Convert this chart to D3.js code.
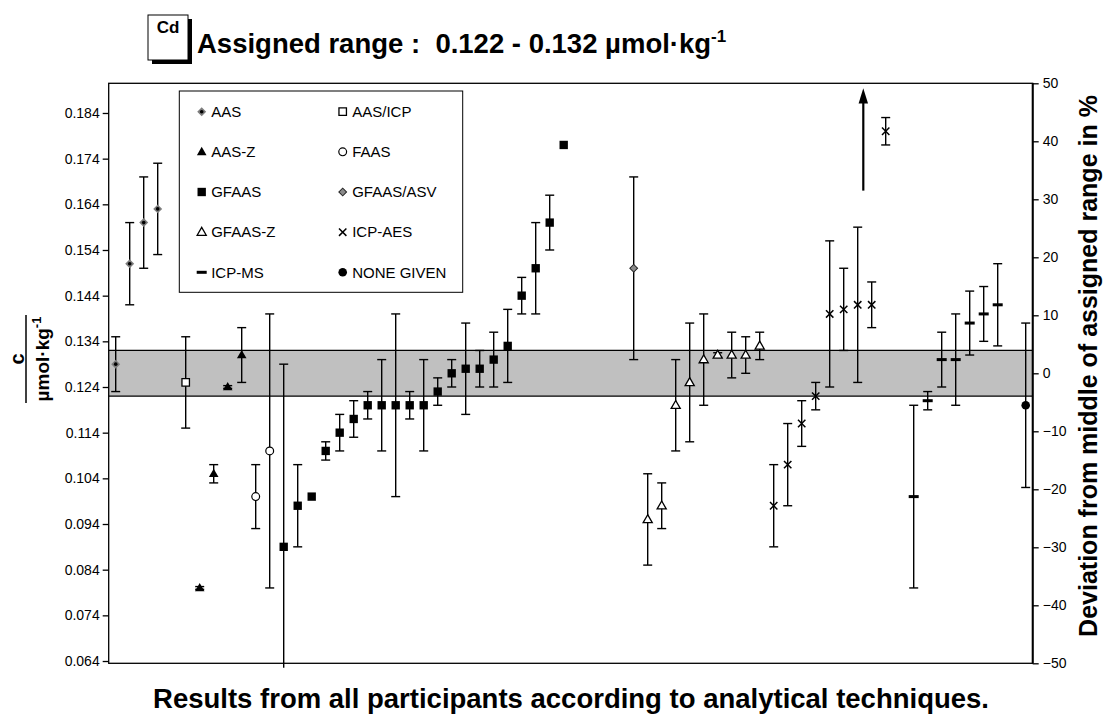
<!DOCTYPE html>
<html>
<head>
<meta charset="utf-8">
<script src="https://cdn.jsdelivr.net/npm/d3@7/dist/d3.min.js"></script>
<style>
  body { margin: 0; background: #fff; }
  svg text { font-family: "Liberation Sans", Arial, sans-serif; }
</style>
</head>
<body>
<div id="chart"></div>
<script>
// ---- data ----
const element = "Cd";
const assignedRange = [0.122, 0.132];

const legendColumn1 = ["AAS", "AAS-Z", "GFAAS", "GFAAS-Z", "ICP-MS"];
const legendColumn2 = ["AAS/ICP", "FAAS", "GFAAS/ASV", "ICP-AES", "NONE GIVEN"];

// participant slot on the x axis (0..65), technique, result and uncertainty limits
const labSlot = [0, 1, 2, 3, 5, 6, 7, 8, 9, 10, 11,
  12, 13, 14, 15, 16, 17, 18, 19, 20, 21, 22, 23, 24, 25, 26, 27, 28, 29, 30, 31, 32,
  37, 38, 39, 40, 41, 42, 43, 44, 45, 46,
  47, 48, 49, 50, 51, 52, 53, 54, 55,
  57, 58, 59, 60, 61, 62, 63, 65];
const labMethod = ["AAS", "AAS", "AAS", "AAS", "AAS/ICP", "AAS-Z", "AAS-Z", "AAS-Z", "AAS-Z", "FAAS", "FAAS",
  "GFAAS", "GFAAS", "GFAAS", "GFAAS", "GFAAS", "GFAAS", "GFAAS", "GFAAS", "GFAAS", "GFAAS", "GFAAS",
  "GFAAS", "GFAAS", "GFAAS", "GFAAS", "GFAAS", "GFAAS", "GFAAS", "GFAAS", "GFAAS", "GFAAS",
  "GFAAS/ASV", "GFAAS-Z", "GFAAS-Z", "GFAAS-Z", "GFAAS-Z", "GFAAS-Z", "GFAAS-Z", "GFAAS-Z", "GFAAS-Z", "GFAAS-Z",
  "ICP-AES", "ICP-AES", "ICP-AES", "ICP-AES", "ICP-AES", "ICP-AES", "ICP-AES", "ICP-AES", "ICP-AES",
  "ICP-MS", "ICP-MS", "ICP-MS", "ICP-MS", "ICP-MS", "ICP-MS", "ICP-MS", "NONE GIVEN"];
const labValue = [0.129, 0.151, 0.160, 0.163, 0.125, 0.080, 0.105, 0.124, 0.131, 0.100, 0.110,
  0.089, 0.098, 0.100, 0.110, 0.114, 0.117, 0.120, 0.120, 0.120, 0.120, 0.120, 0.123, 0.127, 0.128, 0.128, 0.130, 0.133, 0.144, 0.150, 0.160, 0.177,
  0.150, 0.095, 0.098, 0.120, 0.125, 0.130, 0.131, 0.131, 0.131, 0.133,
  0.098, 0.107, 0.116, 0.122, 0.140, 0.141, 0.142, 0.142, 0.180,
  0.100, 0.121, 0.130, 0.130, 0.138, 0.140, 0.142, 0.120];
const labLow = [0.123, 0.142, 0.150, 0.153, 0.115, 0.0797, 0.103, 0.1237, 0.125, 0.093, 0.080,
  0.0625, 0.089, null, 0.108, 0.110, 0.113, 0.117, 0.110, 0.100, 0.117, 0.110, 0.120, 0.124, 0.118, 0.124, 0.124, 0.125, 0.140, 0.140, 0.154, null,
  0.130, 0.085, 0.093, 0.110, 0.112, 0.120, 0.1305, 0.126, 0.127, 0.130,
  0.089, 0.098, 0.111, 0.119, 0.124, 0.132, 0.125, 0.137, 0.177,
  0.080, 0.119, 0.124, 0.120, 0.131, 0.134, 0.133, 0.102];
const labHigh = [0.135, 0.160, 0.170, 0.173, 0.135, 0.0803, 0.107, 0.1243, 0.137, 0.107, 0.140,
  0.129, 0.107, null, 0.112, 0.118, 0.121, 0.123, 0.130, 0.140, 0.123, 0.130, 0.126, 0.130, 0.138, 0.132, 0.136, 0.141, 0.148, 0.160, 0.166, null,
  0.170, 0.105, 0.103, 0.130, 0.138, 0.140, 0.1315, 0.136, 0.135, 0.136,
  0.107, 0.116, 0.121, 0.125, 0.156, 0.150, 0.159, 0.147, 0.183,
  0.120, 0.123, 0.136, 0.140, 0.145, 0.146, 0.151, 0.138];

const slotCount = 66;
const leftTicks = [0.064, 0.074, 0.084, 0.094, 0.104, 0.114, 0.124, 0.134, 0.144, 0.154, 0.164, 0.174, 0.184];
const rightTicks = [-50, -40, -30, -20, -10, 0, 10, 20, 30, 40, 50];

// off-scale result marker (arrow)
const arrowSlot = 53.4;
const arrowFrom = 0.167;
const arrowTo = 0.1885;

// draws one technique symbol centred on (0,0)
function drawMarker(g, method) {
  const sq = (size) => d3.symbol(d3.symbolSquare, size)();
  const tri = (size) => d3.symbol(d3.symbolTriangle, size)();
  switch (method) {
    case "AAS":
      g.append("path").attr("d", sq(40)).attr("transform", "rotate(45)").attr("fill", "#7d7d7d");
      g.append("circle").attr("r", 1.8).attr("fill", "#000");
      break;
    case "AAS/ICP":
      g.append("path").attr("d", sq(56)).attr("fill", "#fff").attr("stroke", "#000").attr("stroke-width", 1.3);
      break;
    case "AAS-Z":
      g.append("path").attr("d", tri(40)).attr("transform", "translate(0,0.5)").attr("fill", "#000");
      break;
    case "FAAS":
      g.append("circle").attr("r", 3.9).attr("fill", "#fff").attr("stroke", "#000").attr("stroke-width", 1.2);
      break;
    case "GFAAS":
      g.append("path").attr("d", sq(70)).attr("fill", "#000");
      break;
    case "GFAAS/ASV":
      g.append("path").attr("d", sq(30)).attr("transform", "rotate(45)")
        .attr("fill", "#8a8a8a").attr("stroke", "#222").attr("stroke-width", 1);
      break;
    case "GFAAS-Z":
      g.append("path").attr("d", tri(36)).attr("transform", "translate(0,0.5)")
        .attr("fill", "#fff").attr("stroke", "#000").attr("stroke-width", 1.3);
      break;
    case "ICP-AES":
      g.append("path").attr("d", "M-3.7,-3.7L3.7,3.7M-3.7,3.7L3.7,-3.7")
        .attr("stroke", "#000").attr("stroke-width", 1.5).attr("fill", "none");
      break;
    case "ICP-MS":
      g.append("rect").attr("x", -5).attr("y", -1.5).attr("width", 10).attr("height", 3).attr("fill", "#000");
      break;
    default:
      g.append("circle").attr("r", 4.3).attr("fill", "#000");
  }
}

class ErrorBarChart {
  constructor(_config) {
    this.config = {
      parentElement: _config.parentElement,
      containerWidth: _config.containerWidth || 1109,
      containerHeight: _config.containerHeight || 715,
      margin: _config.margin || { top: 83.3, right: 76.3, bottom: 51.7, left: 108.7 },
      capWidth: 9,
      tickSize: 6,
      legend: { x: 179.3, y: 91, width: 283.4, height: 201.3, rowTop: 20.7, rowStep: 40.15, col1: 22.4, col2: 163.4, textGap: 9.5 },
    };
    this.initVis();
    this.updateVis();
  }

  initVis() {
    let vis = this;
    const cfg = vis.config;

    vis.width = cfg.containerWidth - cfg.margin.left - cfg.margin.right;
    vis.height = cfg.containerHeight - cfg.margin.top - cfg.margin.bottom;

    vis.svg = d3.select(cfg.parentElement)
      .append("svg")
      .attr("width", cfg.containerWidth)
      .attr("height", cfg.containerHeight);

    vis.g = vis.svg.append("g")
      .attr("transform", "translate(" + cfg.margin.left + "," + cfg.margin.top + ")");

    // mid of the assigned range, deviation axis runs -50 .. +50 %
    vis.mid = (assignedRange[0] + assignedRange[1]) / 2;

    vis.xScale = d3.scaleLinear().domain([-0.5, slotCount - 0.5]).range([0, vis.width]);
    vis.yScale = d3.scaleLinear().domain([vis.mid * 0.5, vis.mid * 1.5]).range([vis.height, 0]);
    vis.yRight = d3.scaleLinear().domain([-50, 50]).range([vis.height, 0]);

    // assigned range band
    vis.g.append("rect")
      .attr("x", 0)
      .attr("width", vis.width)
      .attr("y", vis.yScale(assignedRange[1]))
      .attr("height", vis.yScale(assignedRange[0]) - vis.yScale(assignedRange[1]))
      .attr("fill", "#c0c0c0");
    vis.g.selectAll(".band-edge")
      .data(assignedRange)
      .join("line")
      .attr("class", "band-edge")
      .attr("x1", 0).attr("x2", vis.width)
      .attr("y1", (d) => vis.yScale(d)).attr("y2", (d) => vis.yScale(d))
      .attr("stroke", "#000").attr("stroke-width", 1.3);

    // axes
    vis.yAxisLeft = d3.axisLeft(vis.yScale)
      .tickValues(leftTicks)
      .tickFormat(d3.format(".3f"))
      .tickSize(cfg.tickSize)
      .tickPadding(3);
    vis.yAxisRight = d3.axisRight(vis.yRight)
      .tickValues(rightTicks)
      .tickFormat(d3.format("d"))
      .tickSize(cfg.tickSize)
      .tickPadding(4);

    const left = vis.g.append("g").attr("class", "axis").call(vis.yAxisLeft);
    const right = vis.g.append("g").attr("class", "axis")
      .attr("transform", "translate(" + vis.width + ",0)")
      .call(vis.yAxisRight);
    [left, right].forEach((ax) => {
      ax.select(".domain").remove();
      ax.selectAll(".tick line").attr("stroke", "#000").attr("stroke-width", 1.3);
      ax.selectAll(".tick text").attr("fill", "#000").style("font-size", "14px");
    });

    // frame
    vis.g.append("rect")
      .attr("width", vis.width).attr("height", vis.height)
      .attr("fill", "none").attr("stroke", "#000").attr("stroke-width", 1.3);
    vis.g.append("line")
      .attr("x1", vis.width).attr("x2", vis.width).attr("y1", 0).attr("y2", vis.height)
      .attr("stroke", "#000").attr("stroke-width", 2);

    vis.points = vis.g.append("g").attr("class", "points");
    vis.drawLegend();
    vis.drawTitles();
  }

  updateVis() {
    let vis = this;
    const cfg = vis.config;
    const rows = labSlot.map((s, i) => ({
      slot: s, method: labMethod[i], value: labValue[i], low: labLow[i], high: labHigh[i],
    }));
    const yMin = vis.yScale.domain()[0];

    const bars = vis.points.selectAll(".bar")
      .data(rows.filter((d) => d.low !== null))
      .join("g")
      .attr("class", "bar")
      .attr("transform", (d) => "translate(" + vis.xScale(d.slot) + ",0)");
    bars.append("line")
      .attr("y1", (d) => vis.yScale(d.low))
      .attr("y2", (d) => vis.yScale(d.high))
      .attr("stroke", "#000").attr("stroke-width", 1.4);
    // no cap where the limit falls below the axis
    bars.each(function (d) {
      const caps = d.low >= yMin ? [d.low, d.high] : [d.high];
      d3.select(this).selectAll(".cap")
        .data(caps)
        .join("line")
        .attr("class", "cap")
        .attr("x1", -cfg.capWidth / 2).attr("x2", cfg.capWidth / 2)
        .attr("y1", (c) => vis.yScale(c)).attr("y2", (c) => vis.yScale(c))
        .attr("stroke", "#000").attr("stroke-width", 1.4);
    });

    vis.points.selectAll(".mark")
      .data(rows)
      .join("g")
      .attr("class", "mark")
      .attr("transform", (d) => "translate(" + vis.xScale(d.slot) + "," + vis.yScale(d.value) + ")")
      .each(function (d) { drawMarker(d3.select(this), d.method); });

    // arrow for the off-scale result
    const ax = vis.xScale(arrowSlot);
    vis.g.append("line")
      .attr("x1", ax).attr("x2", ax)
      .attr("y1", vis.yScale(arrowFrom)).attr("y2", vis.yScale(arrowTo) + 10)
      .attr("stroke", "#000").attr("stroke-width", 2.2);
    vis.g.append("path")
      .attr("d", d3.symbol(d3.symbolTriangle, 60)())
      .attr("transform", "translate(" + ax + "," + (vis.yScale(arrowTo) + 6) + ") scale(0.8,1.5)")
      .attr("fill", "#000");
  }

  drawLegend() {
    let vis = this;
    const L = vis.config.legend;
    const lg = vis.svg.append("g").attr("transform", "translate(" + L.x + "," + L.y + ")");
    lg.append("rect")
      .attr("width", L.width).attr("height", L.height)
      .attr("fill", "#fff").attr("stroke", "#000").attr("stroke-width", 1);

    [legendColumn1, legendColumn2].forEach((col, ci) => {
      const cx = ci === 0 ? L.col1 : L.col2;
      col.forEach((name, ri) => {
        const item = lg.append("g")
          .attr("transform", "translate(" + cx + "," + (L.rowTop + ri * L.rowStep) + ")");
        drawMarker(item.append("g"), name);
        item.append("text")
          .attr("x", L.textGap)
          .attr("y", 5.3)
          .style("font-size", "15px")
          .text(name);
      });
    });
  }

  drawTitles() {
    let vis = this;
    const svg = vis.svg;

    // element box with shadow
    svg.append("rect").attr("x", 152).attr("y", 19).attr("width", 40).attr("height", 45).attr("fill", "#000");
    svg.append("rect").attr("x", 148).attr("y", 15).attr("width", 40).attr("height", 45)
      .attr("fill", "#fff").attr("stroke", "#000").attr("stroke-width", 1);
    svg.append("text").attr("x", 168).attr("y", 33).attr("text-anchor", "middle")
      .style("font-size", "17px").style("font-weight", "bold").text(element);

    const title = svg.append("text").attr("x", 197).attr("y", 53)
      .style("font-size", "27.5px").style("font-weight", "bold").style("white-space", "pre");
    title.append("tspan").text("Assigned range :  " + assignedRange[0].toFixed(3) + " - " + assignedRange[1].toFixed(3) + " µmol·kg");
    title.append("tspan").attr("dy", -11).style("font-size", "17px").text("-1");

    // left axis title as a fraction
    const lt = svg.append("g").attr("transform", "translate(26,359) rotate(-90)");
    lt.append("line").attr("x1", -44).attr("x2", 44).attr("stroke", "#000").attr("stroke-width", 1.5);
    lt.append("text").attr("y", -2).attr("text-anchor", "middle")
      .style("font-size", "20px").style("font-weight", "bold").text("c");
    const den = lt.append("text").attr("y", 23).attr("text-anchor", "middle")
      .style("font-size", "19px").style("font-weight", "bold");
    den.append("tspan").text("µmol·kg");
    den.append("tspan").attr("dy", -8).style("font-size", "13px").text("-1");

    // right axis title
    svg.append("text")
      .attr("transform", "translate(1097,366) rotate(-90)")
      .attr("text-anchor", "middle")
      .style("font-size", "25px").style("font-weight", "bold")
      .text("Deviation from middle of assigned range in %");

    // bottom caption
    svg.append("text")
      .attr("x", 571).attr("y", 708)
      .attr("text-anchor", "middle")
      .style("font-size", "27.5px").style("font-weight", "bold")
      .text("Results from all participants according to analytical techniques.");
  }
}

new ErrorBarChart({ parentElement: "#chart" });
</script>
</body>
</html>
